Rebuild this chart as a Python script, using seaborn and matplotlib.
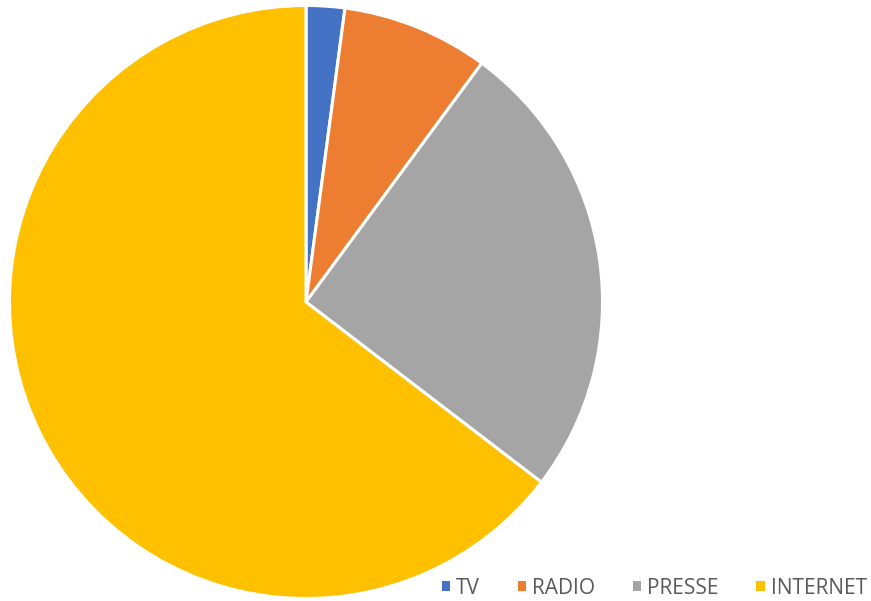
import matplotlib
matplotlib.use("Agg")
import matplotlib.pyplot as plt
import seaborn as sns
from matplotlib.patches import Patch

# data
labels = ["TV", "RADIO", "PRESSE", "INTERNET"]
values = [2.1, 8.0, 25.3, 64.6]
colors = sns.color_palette(["#4472C4", "#ED7D31", "#A5A5A5", "#FFC000"])

sns.set_style("white")
plt.rcParams['font.family'] = ['Open Sans', 'DejaVu Sans']

fig = plt.figure(figsize=(8.71, 6.01), dpi=100)
ax = fig.add_axes([8 / 871, 1 / 601, 596 / 871, 596 / 601])
ax.pie(values, colors=colors, startangle=90, counterclock=False, radius=1,
       wedgeprops=dict(edgecolor="white", linewidth=2.2))
ax.set_xlim(-1.005, 1.005)
ax.set_ylim(-1.005, 1.005)
ax.set_aspect("equal")
ax.axis("off")

handles = [Patch(facecolor=c, edgecolor="none") for c in colors]
fig.legend(handles, labels, loc="center right", bbox_to_anchor=(867 / 871, 13 / 601),
           ncol=4, frameon=False, fontsize=15, labelcolor="#595959",
           borderpad=0, borderaxespad=0,
           handlelength=0.4, handleheight=0.4, handletextpad=0.3, columnspacing=1.8)

fig.savefig("out.png", dpi=100, facecolor="white")
